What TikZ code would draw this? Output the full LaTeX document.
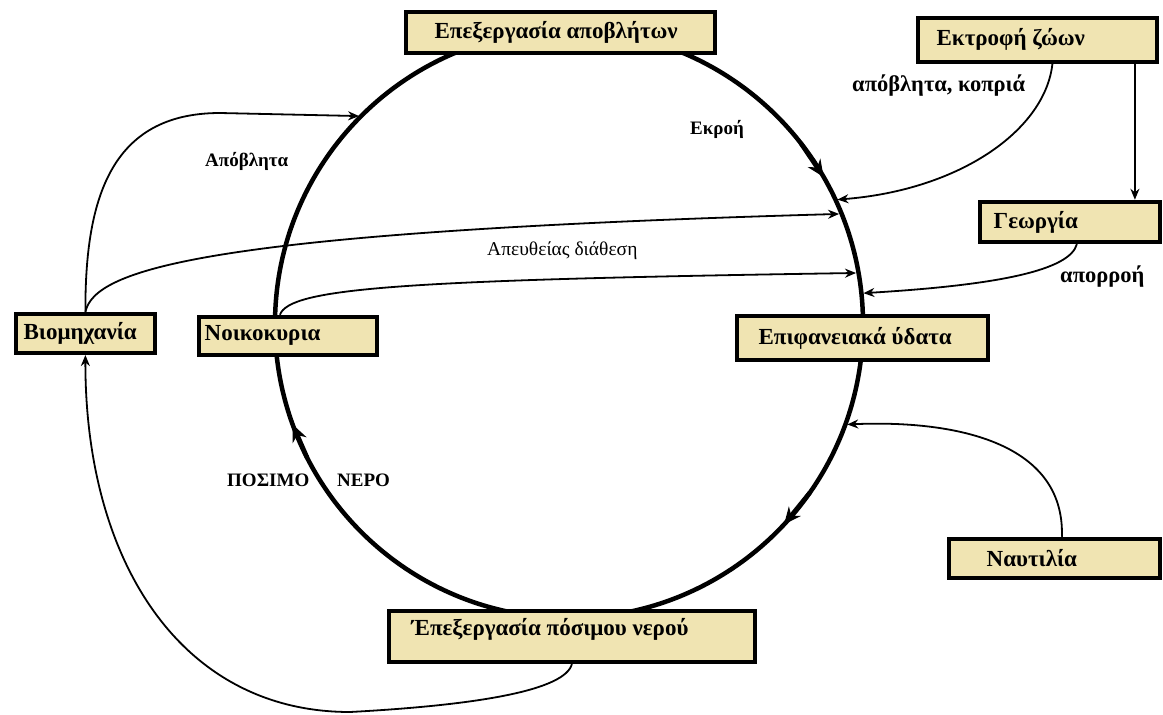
\documentclass[tikz,border=0pt]{standalone}
\usepackage{fontspec}
\setmainfont{Liberation Serif}
\usetikzlibrary{arrows.meta,calc}
\definecolor{boxfill}{RGB}{240,228,178}
\newcommand{\bxt}[3]{\makebox[#1pt][l]{\hspace{#2pt}#3}}
\begin{document}
\begin{tikzpicture}[x=1pt,y=-1pt,
  box/.style={draw, line width=3.8pt, fill=boxfill, anchor=north west, inner sep=0pt,
    font=\fontsize{23}{27}\selectfont\bfseries},
  conn/.style={line width=1.8pt, -{Stealth[length=11pt,width=9pt]}},
  flow/.style={line width=4.5pt, -{Stealth[length=17pt,width=15pt]}},
  lbl/.style={anchor=base west, inner sep=0pt, font=\fontsize{22.5}{26}\selectfont\bfseries},
  slbl/.style={anchor=base west, inner sep=0pt, font=\fontsize{19}{22}\selectfont\bfseries},
  rlbl/.style={anchor=base west, inner sep=0pt, font=\fontsize{19.5}{23}\selectfont}]
\useasboundingbox (0,0) rectangle (1163,715);
% main cycle
\node[draw, circle, line width=4.5pt, minimum size=588pt, inner sep=0pt, outer sep=0pt] (C) at (569,324) {};
\draw[flow] (C.38) -- (C.30.5);
\draw[flow] (C.325) -- (C.317.5);
\draw[flow] (C.207) -- (C.200);
% boxes
\node[box, minimum height=41.5pt] (A) at (403.75,9.75) {\bxt{309.5}{29}{Επεξεργασία αποβλήτων}};
\node[box, minimum height=44.5pt] (E) at (915.75,15.75) {\bxt{239.5}{19}{Εκτροφή ζώων}};
\node[box, minimum height=40.5pt] (G) at (977.75,199.75) {\bxt{180.5}{14}{Γεωργία}};
\node[box, minimum height=39.5pt] (B) at (13.75,311.75) {\bxt{139.5}{8}{Βιομηχανία}};
\node[box, minimum height=38.5pt] (N) at (196.75,314.75) {\bxt{178.5}{6}{Νοικοκυρια}};
\node[box, minimum height=44.5pt] (S) at (734.75,313.75) {\bxt{251.5}{22}{Επιφανειακά ύδατα}};
\node[box, minimum height=51.5pt, text depth=19pt] (P) at (386.75,608.75) {\bxt{366.5}{23}{Έπεξεργασία πόσιμου νερού}};
\node[box, minimum height=39.5pt] (T) at (946.75,536.75) {\bxt{211.5}{38}{Ναυτιλία}};
% labels
\node[lbl] (l1) at (852,91) {απόβλητα, κοπριά};
\node[lbl] (l2) at (1060,282) {απορροή};
\node[slbl] (l3) at (690,134) {Εκροή};
\node[slbl] (l4) at (205,166) {Απόβλητα};
\node[rlbl] (l5) at (487,255) {Απευθείας διάθεση};
\node[slbl] (l6) at (227,486) {ΠΟΣΙΜΟ};
\node[slbl] (l7) at (337,486) {ΝΕΡΟ};
% connectors
\draw[conn, shorten >=2pt] ([xshift=15pt]E.south) .. controls (1045,130) and (960,190) .. (C.25.3);
\draw[conn] ([xshift=97.5pt]E.south) -- ([xshift=97.5pt]E.south |- G.north);
\draw[conn, shorten >=2pt] ([xshift=7pt]G.south) .. controls (1070,270) and (1000,285) .. (C.6.6);
\draw[conn, shorten >=2pt] ([xshift=7.5pt]T.north) .. controls (1065,440) and (950,420) .. (C.340);
\draw[conn, shorten >=2pt] (B.north) .. controls (85,200) and (110,113) .. (220,113) -- (C.135);
\draw[conn, shorten >=2.5pt] (B.north) .. controls (95,270) and (200,232) .. (C.22.8);
\draw[conn, shorten >=2.5pt] ([xshift=-8pt]N.north) .. controls (290,288) and (400,280) .. (C.10.4);
\draw[conn] (P.south) .. controls (565,690) and (480,705) .. (350,712) .. controls (180,712) and (85,560) .. (B.south);
\end{tikzpicture}
\end{document}
